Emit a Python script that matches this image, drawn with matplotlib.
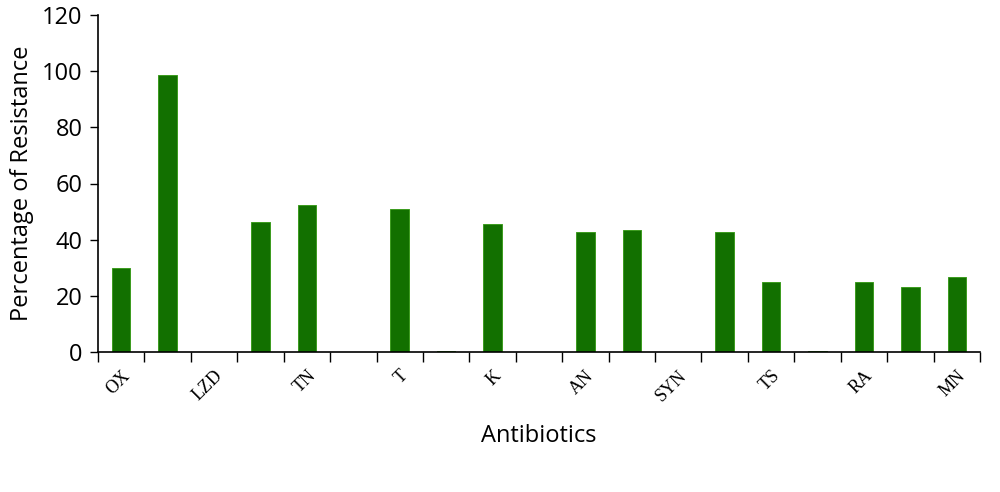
import matplotlib
matplotlib.use("Agg")
import matplotlib.pyplot as plt
import numpy as np

categories = ["OX", "", "LZD", "", "TN", "", "T", "", "K", "", "AN", "",
              "SYN", "", "TS", "", "RA", "", "MN"]
values = [30, 98.5, 0, 46.2, 52.5, 0, 50.8, 0.5, 45.6, 0, 42.7, 43.6,
          0, 42.7, 25, 0.5, 25, 23, 26.6]

fig = plt.figure(figsize=(10, 4.92), dpi=100)
ax = fig.add_axes([0.098, 1 - 352 / 492, 0.882, (352 - 15) / 492])

x = np.arange(len(categories))
edges = ["#3c9c1e" if v > 0 else "none" for v in values]
ax.bar(x, values, width=0.4, color="#127000", edgecolor=edges, linewidth=0.7)

ax.set_xlim(-0.5, len(categories) - 0.5)
ax.set_ylim(0, 120)
ax.set_yticks(np.arange(0, 121, 20))
ax.tick_params(axis="y", labelsize=17, length=6, width=1, direction="out", pad=5)
for lab in ax.get_yticklabels():
    lab.set_family(["Open Sans", "DejaVu Sans"])

# ticks at category boundaries
ax.set_xticks(np.arange(-0.5, len(categories) + 0.5, 1))
ax.set_xticklabels([])
ax.tick_params(axis="x", which="major", length=7, width=1, direction="out")
ax.set_xticks(x, minor=True)
ax.set_xticklabels(categories, minor=True, rotation=45, ha="right",
                   rotation_mode="anchor", family="Liberation Serif", fontsize=13)
ax.tick_params(axis="x", which="minor", length=0, pad=11)

for s in ["top", "right"]:
    ax.spines[s].set_visible(False)
for s in ["left", "bottom"]:
    ax.spines[s].set_linewidth(1.2)

ax.set_ylabel("Percentage of Resistance", fontsize=17, family=["Open Sans", "DejaVu Sans"], labelpad=6)
ax.set_xlabel("Antibiotics", fontsize=17, family=["Open Sans", "DejaVu Sans"], labelpad=14)

fig.savefig("out.png", dpi=100)
